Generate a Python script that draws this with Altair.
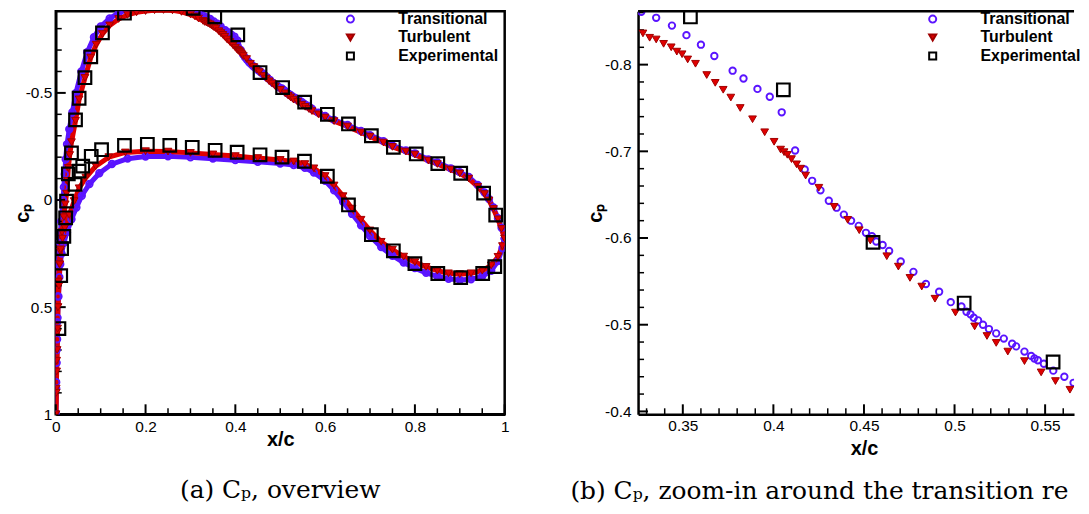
import altair as alt
import pandas as pd

SERIES = ["Transitional", "Turbulent", "Experimental"]
BLUE = "#5a14ff"
RED = "#e00000"
DARKRED = "#a00000"
CLEAR = "rgba(255,255,255,0)"

# ---------------- CFD, transitional, upper surface ----------------
T_UP_X = [0.000, 0.001, 0.002, 0.003, 0.004, 0.006, 0.009, 0.012, 0.016, 0.018, 0.020, 0.022, 0.025,
          0.030, 0.037, 0.045, 0.057, 0.070, 0.085, 0.100, 0.120, 0.140, 0.160, 0.180, 0.200, 0.220,
          0.240, 0.260, 0.280, 0.300, 0.310, 0.318,
          0.3271, 0.3353, 0.3440, 0.3520, 0.3600, 0.3674, 0.3775, 0.3835, 0.3912, 0.3980, 0.4046,
          0.4120, 0.4173, 0.4214, 0.4260, 0.4306, 0.4349, 0.4389, 0.4429, 0.4471, 0.4511, 0.4544,
          0.4568, 0.4603, 0.4639, 0.4703, 0.4773, 0.4842, 0.4915, 0.4979, 0.5038, 0.5066, 0.5088,
          0.5106, 0.5130, 0.5157, 0.5190, 0.5230, 0.5272, 0.5318, 0.5340, 0.5386, 0.5423, 0.5441,
          0.5460, 0.5493, 0.5545, 0.5606, 0.5657, 0.5707,
          0.585, 0.600, 0.620, 0.650, 0.680, 0.700, 0.730, 0.750, 0.780, 0.800, 0.830, 0.850, 0.880,
          0.900, 0.920, 0.940, 0.955, 0.965, 0.975, 0.985, 0.993, 1.000]
T_UP_CP = [1.00, 0.85, 0.70, 0.57, 0.45, 0.30, 0.20, 0.10, 0.00, -0.06, -0.12, -0.19, -0.26,
           -0.33, -0.41, -0.50, -0.60, -0.69, -0.76, -0.81, -0.848, -0.873, -0.889, -0.899, -0.905, -0.909,
           -0.910, -0.908, -0.900, -0.889, -0.880, -0.870,
           -0.861, -0.854, -0.845, -0.834, -0.823, -0.810, -0.793, -0.784, -0.772, -0.763, -0.745,
           -0.701, -0.679, -0.666, -0.655, -0.643, -0.635, -0.627, -0.620, -0.614, -0.606, -0.602,
           -0.596, -0.592, -0.585, -0.573, -0.561, -0.547, -0.538, -0.526, -0.521, -0.515, -0.512,
           -0.508, -0.505, -0.500, -0.495, -0.490, -0.484, -0.478, -0.475, -0.469, -0.464, -0.461,
           -0.459, -0.455, -0.447, -0.440, -0.433, -0.426,
           -0.408, -0.392, -0.374, -0.350, -0.322, -0.303, -0.275, -0.255, -0.232, -0.218, -0.190,
           -0.175, -0.148, -0.130, -0.108, -0.070, -0.035, -0.005, 0.035, 0.085, 0.130, 0.180]

# ---------------- CFD, turbulent, upper surface ----------------
R_UP_X = [0.000, 0.001, 0.002, 0.003, 0.004, 0.006, 0.008, 0.010, 0.014, 0.018, 0.021, 0.024, 0.026,
          0.028, 0.031, 0.035, 0.044, 0.052, 0.065, 0.078, 0.090, 0.104, 0.120, 0.140, 0.160, 0.180,
          0.200, 0.220, 0.240, 0.260, 0.280, 0.300, 0.310, 0.318,
          0.3280, 0.3317, 0.3353, 0.3394, 0.3436, 0.3467, 0.3496, 0.3527, 0.3570, 0.3632, 0.3679,
          0.3723, 0.3765, 0.3817, 0.3885, 0.3952, 0.4004, 0.4040, 0.4059, 0.4077, 0.4100, 0.4128,
          0.4150, 0.4178, 0.4251, 0.4335, 0.4410, 0.4474, 0.4535, 0.4626, 0.4690, 0.4754, 0.4819,
          0.4892, 0.5005, 0.5111, 0.5179, 0.5230, 0.5294, 0.5386, 0.5478, 0.5557, 0.5637, 0.5707,
          0.585, 0.600, 0.620, 0.650, 0.680, 0.700, 0.730, 0.750, 0.780, 0.800, 0.830, 0.850, 0.880,
          0.900, 0.920, 0.940, 0.955, 0.965, 0.975, 0.985, 0.993, 1.000]
R_UP_CP = [1.00, 0.88, 0.75, 0.62, 0.50, 0.38, 0.30, 0.24, 0.15, 0.08, 0.02, -0.03, -0.09,
           -0.15, -0.21, -0.27, -0.37, -0.47, -0.57, -0.665, -0.725, -0.775, -0.815, -0.845, -0.864, -0.876,
           -0.882, -0.886, -0.887, -0.885, -0.878, -0.866, -0.857, -0.847,
           -0.836, -0.831, -0.829, -0.824, -0.820, -0.815, -0.812, -0.806, -0.801, -0.788, -0.779,
           -0.771, -0.762, -0.750, -0.737, -0.722, -0.711, -0.702, -0.699, -0.696, -0.691, -0.685,
           -0.680, -0.672, -0.658, -0.636, -0.621, -0.609, -0.597, -0.579, -0.567, -0.554, -0.544,
           -0.530, -0.514, -0.498, -0.487, -0.479, -0.469, -0.458, -0.445, -0.435, -0.425, -0.415,
           -0.400, -0.385, -0.368, -0.343, -0.315, -0.296, -0.268, -0.248, -0.226, -0.212, -0.184,
           -0.168, -0.142, -0.124, -0.100, -0.062, -0.028, 0.002, 0.042, 0.090, 0.135, 0.180]

# ---------------- CFD, lower surfaces ----------------
R_LO_X = [0.000, 0.001, 0.002, 0.003, 0.004, 0.005, 0.007, 0.009, 0.011, 0.015, 0.020, 0.030, 0.041,
          0.052, 0.067, 0.089, 0.118, 0.155, 0.200, 0.250, 0.300, 0.350, 0.400, 0.450, 0.500, 0.530,
          0.555, 0.575, 0.600, 0.620, 0.640, 0.660, 0.680, 0.700, 0.725, 0.750, 0.775, 0.800, 0.825,
          0.850, 0.875, 0.900, 0.925, 0.950, 0.970, 0.985, 0.995, 1.000]
R_LO_CP = [1.00, 0.90, 0.80, 0.70, 0.60, 0.50, 0.40, 0.30, 0.23, 0.18, 0.13, 0.07, 0.005,
           -0.055, -0.105, -0.158, -0.200, -0.222, -0.228, -0.226, -0.220, -0.213, -0.205, -0.196, -0.187, -0.180,
           -0.168, -0.148, -0.112, -0.068, -0.018, 0.040, 0.092, 0.142, 0.195, 0.232, 0.264, 0.290, 0.312,
           0.330, 0.342, 0.346, 0.342, 0.330, 0.305, 0.265, 0.215, 0.180]
T_LO_X = [0.000, 0.001, 0.002, 0.003, 0.004, 0.006, 0.008, 0.010, 0.013, 0.018, 0.025, 0.035, 0.046,
          0.058, 0.075, 0.097, 0.125, 0.160, 0.200, 0.250, 0.300, 0.350, 0.400, 0.450, 0.500, 0.530,
          0.555, 0.575, 0.600, 0.620, 0.640, 0.660, 0.680, 0.700, 0.725, 0.750, 0.775, 0.800, 0.825,
          0.850, 0.875, 0.900, 0.925, 0.950, 0.970, 0.985, 0.995, 1.000]
T_LO_CP = [1.00, 0.88, 0.76, 0.65, 0.55, 0.45, 0.36, 0.30, 0.25, 0.20, 0.15, 0.09, 0.035,
           -0.02, -0.075, -0.125, -0.168, -0.193, -0.203, -0.204, -0.199, -0.193, -0.186, -0.178, -0.170, -0.163,
           -0.150, -0.128, -0.090, -0.045, 0.008, 0.065, 0.118, 0.168, 0.220, 0.260, 0.292, 0.318, 0.340,
           0.356, 0.368, 0.373, 0.370, 0.356, 0.330, 0.285, 0.225, 0.180]

# ---------------- Experimental ----------------
E_UP_X = [0.007, 0.011, 0.013, 0.018, 0.022, 0.024, 0.028, 0.035, 0.044, 0.052, 0.065, 0.078, 0.104,
          0.153, 0.306, 0.3542, 0.4055, 0.455, 0.5053, 0.5544, 0.605, 0.652, 0.703, 0.752, 0.803,
          0.851, 0.902, 0.953, 0.980]
E_UP_CP = [0.600, 0.353, 0.227, 0.170, 0.083, 0.005, -0.122, -0.220, -0.374, -0.475, -0.571, -0.668, -0.780,
           -0.872, -0.895, -0.855, -0.771, -0.595, -0.525, -0.457, -0.400, -0.355, -0.300, -0.246, -0.215,
           -0.170, -0.125, -0.032, 0.070]
E_LO_X = [0.043, 0.052, 0.060, 0.079, 0.102, 0.153, 0.204, 0.254, 0.304, 0.355, 0.404, 0.455, 0.504,
          0.554, 0.605, 0.652, 0.703, 0.752, 0.800, 0.851, 0.902, 0.951, 0.978]
E_LO_CP = [-0.073, -0.135, -0.158, -0.204, -0.235, -0.255, -0.260, -0.255, -0.246, -0.232, -0.223, -0.211, -0.200,
           -0.181, -0.111, 0.023, 0.162, 0.237, 0.297, 0.343, 0.362, 0.343, 0.311]

# ---------------- Axis ticks ----------------
LX_MAJOR = [0, 0.2, 0.4, 0.6, 0.8, 1.0]
LX_MINOR = [0.05, 0.1, 0.15, 0.25, 0.3, 0.35, 0.45, 0.5, 0.55, 0.65, 0.7, 0.75, 0.85, 0.9, 0.95]
LY_MAJOR = [-0.5, 0, 0.5, 1.0]
LY_MINOR = [-0.8, -0.7, -0.6, -0.4, -0.3, -0.2, -0.1, 0.1, 0.2, 0.3, 0.4, 0.6, 0.7, 0.8, 0.9]
RX_MAJOR = [0.35, 0.4, 0.45, 0.5, 0.55]
RX_MINOR = [0.33, 0.34, 0.36, 0.37, 0.38, 0.39, 0.41, 0.42, 0.43, 0.44, 0.46, 0.47, 0.48, 0.49,
            0.51, 0.52, 0.53, 0.54, 0.56]
RY_MAJOR = [-0.8, -0.7, -0.6, -0.5, -0.4]
RY_MINOR = [-0.86, -0.84, -0.82, -0.78, -0.76, -0.74, -0.72, -0.68, -0.66, -0.64, -0.62, -0.58,
            -0.56, -0.54, -0.52, -0.48, -0.46, -0.44, -0.42]


def surf(series, surface, xs, cps):
    return pd.DataFrame({"x": xs, "cp": cps, "series": series, "surface": surface,
                         "idx": list(range(len(xs)))})


cfd_T = pd.concat([surf("Transitional", "upper", T_UP_X, T_UP_CP),
                   surf("Transitional", "lower", T_LO_X, T_LO_CP)], ignore_index=True)
cfd_R = pd.concat([surf("Turbulent", "upper", R_UP_X, R_UP_CP),
                   surf("Turbulent", "lower", R_LO_X, R_LO_CP)], ignore_index=True)
exp = pd.concat([surf("Experimental", "upper", E_UP_X, E_UP_CP),
                 surf("Experimental", "lower", E_LO_X, E_LO_CP)], ignore_index=True)

LABEL_EXPR = "datum.value < 0 ? '-' + format(-datum.value, '~g') : format(datum.value, '~g')"
FONT = "Liberation Sans"


def make_axis(**kw):
    return alt.Axis(ticks=False, labelFlush=False, labelExpr=LABEL_EXPR, grid=False,
                    domainColor="black", domainWidth=2.5,
                    labelFont=FONT, labelFontSize=15.5, labelColor="black",
                    titleFont=FONT, titleFontSize=20, titleFontWeight="bold", titleColor="black",
                    titleBaseline="alphabetic", **kw)


def scales(xdom, ydom):
    return (alt.Scale(domain=xdom, nice=False, zero=False),
            alt.Scale(domain=ydom, reverse=True, nice=False, zero=False))


def legend():
    return alt.Legend(title=None, orient="none", legendX=288, legendY=0, padding=0,
                      labelFont=FONT, labelFontSize=16, labelFontWeight="bold", labelColor="black",
                      labelOffset=40, rowPadding=2.5, labelLimit=300, symbolSize=50,
                      symbolStrokeWidth=2)


def point_layers(xs, ys, xaxis, yaxis):
    lg = legend()
    out = []
    for df, size, sw in ((cfd_T, 42, 1.9), (cfd_R, 60, 1.0), (exp, 160, 2.2)):
        out.append(alt.Chart(df).mark_point(clip=True, opacity=1, size=size, strokeWidth=sw).encode(
            x=alt.X("x:Q", scale=xs, axis=xaxis),
            y=alt.Y("cp:Q", scale=ys, axis=yaxis),
            shape=alt.Shape("series:N", scale=alt.Scale(domain=SERIES, range=["circle", "triangle-down", "square"]), legend=lg),
            stroke=alt.Stroke("series:N", scale=alt.Scale(domain=SERIES, range=[BLUE, DARKRED, "black"]), legend=lg),
            fill=alt.Fill("series:N", scale=alt.Scale(domain=SERIES, range=[CLEAR, RED, CLEAR]), legend=lg),
        ))
    return out


def tick_layers(xs, ys, xaxis, yaxis, xmaj, xmin, ymaj, ymin, H):
    out = []
    for vals, L in ((xmaj, 10), (xmin, 6)):
        out.append(alt.Chart(pd.DataFrame({"x": vals})).mark_rule(color="black", strokeWidth=2 if L == 10 else 1.5).encode(
            x=alt.X("x:Q", scale=xs, axis=xaxis), y=alt.value(H), y2=alt.value(H - L)))
    for vals, L in ((ymaj, 10), (ymin, 6)):
        out.append(alt.Chart(pd.DataFrame({"cp": vals})).mark_rule(color="black", strokeWidth=2 if L == 10 else 1.5).encode(
            y=alt.Y("cp:Q", scale=ys, axis=yaxis), x=alt.value(0), x2=alt.value(L)))
    return out


H = 405
# ---------------- Left panel ----------------
WL = 451
lxs, lys = scales([0, 1], [-0.8816, 1.0])
lxaxis = make_axis(values=LX_MAJOR, title="x/c", labelPadding=5, titleY=31)
lyaxis = make_axis(values=LY_MAJOR, title="cₚ", labelPadding=4, titleX=-27)

lines = []
for df, col, w in ((cfd_T, BLUE, 5), (cfd_R, RED, 5)):
    lines.append(alt.Chart(df).mark_line(clip=True, strokeWidth=w, strokeJoin="round", strokeCap="round").encode(
        x=alt.X("x:Q", scale=lxs, axis=lxaxis), y=alt.Y("cp:Q", scale=lys, axis=lyaxis),
        detail="surface:N", order="idx:Q", stroke=alt.value(col)))

left = alt.layer(
    *lines,
    *tick_layers(lxs, lys, lxaxis, lyaxis, LX_MAJOR, LX_MINOR, LY_MAJOR, LY_MINOR, H),
    *point_layers(lxs, lys, lxaxis, lyaxis),
).properties(
    width=WL, height=H,
    view=alt.ViewBackground(stroke="black", strokeWidth=2.5),
    title=alt.TitleParams("(a) Cₚ, overview", orient="bottom", anchor="middle", frame="group",
                          font="DejaVu Serif", fontSize=25, fontWeight="normal", color="black", offset=29),
)

# ---------------- Right panel ----------------
WR = 438
rxs, rys = scales([0.3253, 0.3253 + WR * 0.05 / 91.0], [-0.8617, -0.3967])
rxaxis = make_axis(values=RX_MAJOR, title="x/c", labelPadding=4, titleY=40, titleX=227)
ryaxis = make_axis(values=RY_MAJOR, title="cₚ", labelPadding=7, titleX=-37)

top_border = alt.Chart(pd.DataFrame({"v": [0]})).mark_rule(color="black", strokeWidth=2.5).encode(
    x=alt.value(0), x2=alt.value(WR), y=alt.value(0))

right = alt.layer(
    *tick_layers(rxs, rys, rxaxis, ryaxis, RX_MAJOR, RX_MINOR, RY_MAJOR, RY_MINOR, H),
    *point_layers(rxs, rys, rxaxis, ryaxis),
    top_border,
).properties(
    width=WR, height=H,
    view=alt.ViewBackground(stroke="transparent", strokeWidth=0),
    title=alt.TitleParams("(b) Cₚ, zoom-in around the transition re", orient="bottom", anchor="start",
                          frame="group", dx=-68, font="DejaVu Serif", fontSize=25, fontWeight="normal",
                          color="black", offset=21),
)

chart = alt.hconcat(left, right, spacing=60).resolve_scale(
    shape="independent", stroke="independent", fill="independent",
).properties(padding={"left": 3, "top": 0, "right": 0, "bottom": 0}).configure_view(strokeWidth=0)

chart.save("out.html", embed_options={"renderer": "svg", "actions": False})
